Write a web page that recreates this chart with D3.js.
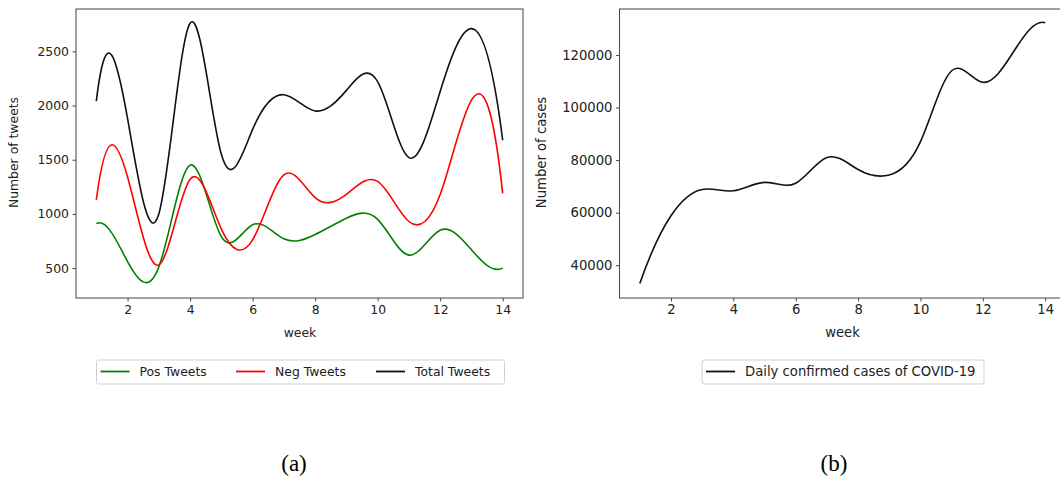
<!DOCTYPE html>
<html>
<head>
<meta charset="utf-8">
<script src="https://cdn.jsdelivr.net/npm/d3@7"></script>
<style>
  body { margin: 0; background: #fff; }
  svg text { font-family: "DejaVu Sans", sans-serif; }
</style>
</head>
<body>
<div class="chart"></div>
<script>
// weekly values
var weeks = [1, 2, 3, 4, 5, 6, 7, 8, 9, 10, 11, 12, 13, 14];
var posTweets = [910, 560, 510, 1450, 790, 900, 770, 810, 960, 950, 620, 850, 670, 500];
var negTweets = [1130, 1340, 530, 1320, 860, 760, 1360, 1150, 1180, 1300, 930, 1180, 2050, 1190];
var totalTweets = [2040, 1880, 1000, 2760, 1550, 1780, 2100, 1950, 2140, 2220, 1520, 2130, 2710, 1680];
var dailyCases = [33000, 58800, 68800, 68300, 71500, 71200, 81000, 76400, 74300, 87000, 114000, 109600, 121500, 132300];

var xTicks = [2, 4, 6, 8, 10, 12, 14];
var tweetTicks = [500, 1000, 1500, 2000, 2500];
var caseTicks = [40000, 60000, 80000, 100000, 120000];

// cubic spline with not-a-knot ends (like scipy's make_interp_spline)
function NotAKnot(context) { this._context = context; }
NotAKnot.prototype = {
    areaStart: function () { this._line = 0; },
    areaEnd: function () { this._line = NaN; },
    lineStart: function () { this._x = []; this._y = []; },
    point: function (x, y) { this._x.push(+x); this._y.push(+y); },
    lineEnd: function () {
        var xs = this._x, ys = this._y, n = xs.length, c = this._context;
        if (!n) return;
        c.moveTo(xs[0], ys[0]);
        if (n < 4) { for (var k = 1; k < n; k++) c.lineTo(xs[k], ys[k]); return; }
        var h = [], i, j;
        for (i = 0; i < n - 1; i++) h.push(xs[i + 1] - xs[i]);
        // build system for second derivatives
        var A = [], b = [];
        for (i = 0; i < n; i++) { A.push(new Array(n).fill(0)); b.push(0); }
        A[0][0] = h[1]; A[0][1] = -(h[0] + h[1]); A[0][2] = h[0];
        for (i = 1; i < n - 1; i++) {
            A[i][i - 1] = h[i - 1];
            A[i][i] = 2 * (h[i - 1] + h[i]);
            A[i][i + 1] = h[i];
            b[i] = 6 * ((ys[i + 1] - ys[i]) / h[i] - (ys[i] - ys[i - 1]) / h[i - 1]);
        }
        A[n - 1][n - 3] = h[n - 2]; A[n - 1][n - 2] = -(h[n - 3] + h[n - 2]); A[n - 1][n - 1] = h[n - 3];
        // gaussian elimination
        for (i = 0; i < n; i++) {
            var p = i;
            for (j = i + 1; j < n; j++) if (Math.abs(A[j][i]) > Math.abs(A[p][i])) p = j;
            var t = A[i]; A[i] = A[p]; A[p] = t; t = b[i]; b[i] = b[p]; b[p] = t;
            for (j = i + 1; j < n; j++) {
                var f = A[j][i] / A[i][i];
                if (!f) continue;
                for (var k2 = i; k2 < n; k2++) A[j][k2] -= f * A[i][k2];
                b[j] -= f * b[i];
            }
        }
        var M = new Array(n).fill(0);
        for (i = n - 1; i >= 0; i--) {
            var s = b[i];
            for (j = i + 1; j < n; j++) s -= A[i][j] * M[j];
            M[i] = s / A[i][i];
        }
        for (i = 0; i < n - 1; i++) {
            var hh = h[i], sl = (ys[i + 1] - ys[i]) / hh;
            var d0 = sl - hh * (2 * M[i] + M[i + 1]) / 6;
            var d1 = sl + hh * (M[i] + 2 * M[i + 1]) / 6;
            c.bezierCurveTo(xs[i] + hh / 3, ys[i] + d0 * hh / 3,
                            xs[i + 1] - hh / 3, ys[i + 1] - d1 * hh / 3,
                            xs[i + 1], ys[i + 1]);
        }
    }
};
function curveNotAKnot(context) { return new NotAKnot(context); }

var svg = d3.select(".chart")
    .append("svg")
    .attr("width", 1060)
    .attr("height", 480);

function drawPanel(opt) {
    var g = svg.append("g")
        .attr("transform", "translate(" + opt.left + "," + opt.top + ")");

    var width = opt.width, height = opt.height, fs = opt.fontSize + "px";

    var x = d3.scaleLinear()
        .domain([0.35, 14.65])
        .range([0, width]);

    var y = d3.scaleLinear()
        .domain(opt.yDomain)
        .range([height, 0]);

    // x axis
    var xa = g.append("g")
        .attr("transform", "translate(0," + height + ")")
        .call(d3.axisBottom(x).tickValues(xTicks).tickSize(3.5).tickPadding(3.5).tickFormat(d3.format("d")));
    xa.select(".domain").remove();
    xa.selectAll("line").attr("stroke", "#444");
    xa.selectAll("text").attr("fill", "#222").style("font-size", fs);

    // y axis
    var ya = g.append("g")
        .call(d3.axisLeft(y).tickValues(opt.yTicks).tickSize(3.5).tickPadding(3.5).tickFormat(d3.format("d")));
    ya.select(".domain").remove();
    ya.selectAll("line").attr("stroke", "#444");
    ya.selectAll("text").attr("fill", "#222").style("font-size", fs);

    // frame
    g.append("rect")
        .attr("x", 0).attr("y", 0)
        .attr("width", width).attr("height", height)
        .attr("fill", "none")
        .attr("stroke", "#444")
        .attr("stroke-width", 1);

    var line = d3.line()
        .x(function (d) { return x(d[0]); })
        .y(function (d) { return y(d[1]); })
        .curve(curveNotAKnot);

    opt.series.forEach(function (s) {
        g.append("path")
            .datum(weeks.map(function (w, i) { return [w, s.values[i]]; }))
            .attr("fill", "none")
            .attr("stroke", s.color)
            .attr("stroke-width", 1.6)
            .attr("d", line);
    });

    g.append("text")
        .attr("text-anchor", "middle")
        .attr("x", opt.xLabelX)
        .attr("y", height + 39)
        .attr("fill", "#222")
        .style("font-size", fs)
        .text("week");

    g.append("text")
        .attr("text-anchor", "middle")
        .attr("transform", "rotate(-90)")
        .attr("x", -height / 2 + 1)
        .attr("y", opt.yLabelY)
        .attr("fill", "#222")
        .style("font-size", fs)
        .text(opt.yLabel);

    // legend below the axes
    var lg = svg.append("g")
        .attr("transform", "translate(" + opt.legend.x + ",360)");
    lg.append("rect")
        .attr("x", 0).attr("y", 0)
        .attr("width", opt.legend.w).attr("height", 24)
        .attr("rx", 2)
        .attr("fill", "#fff")
        .attr("stroke", "#d0d0d0");
    opt.series.forEach(function (s, i) {
        var ox = opt.legend.offsets[i];
        lg.append("line")
            .attr("x1", ox).attr("x2", ox + 29)
            .attr("y1", 11.5).attr("y2", 11.5)
            .attr("stroke", s.color)
            .attr("stroke-width", 1.8);
        lg.append("text")
            .attr("x", ox + opt.legend.gap)
            .attr("y", 16)
            .attr("fill", "#222")
            .style("font-size", fs)
            .text(s.name);
    });

    svg.append("text")
        .attr("x", opt.capX)
        .attr("y", 471)
        .attr("text-anchor", "middle")
        .attr("fill", "#000")
        .style("font-family", "'Liberation Serif', serif")
        .style("font-size", "23px")
        .text(opt.caption);
}

drawPanel({
    left: 76, top: 9, width: 447, height: 289,
    fontSize: 12.4,
    yDomain: [224, 2891],
    yTicks: tweetTicks,
    yLabel: "Number of tweets",
    yLabelY: -58,
    xLabelX: 224,
    series: [
        { name: "Pos Tweets", values: posTweets, color: "green" },
        { name: "Neg Tweets", values: negTweets, color: "red" },
        { name: "Total Tweets", values: totalTweets, color: "#111" }
    ],
    legend: { x: 96.5, w: 408, gap: 39, offsets: [4, 139.5, 279.5] },
    caption: "(a)", capX: 294
});

drawPanel({
    left: 619.5, top: 9, width: 446, height: 289,
    fontSize: 13.2,
    yDomain: [27500, 137500],
    yTicks: caseTicks,
    yLabel: "Number of cases",
    yLabelY: -74,
    xLabelX: 223,
    series: [
        { name: "Daily confirmed cases of COVID-19", values: dailyCases, color: "#111" }
    ],
    legend: { x: 702, w: 282, gap: 39, offsets: [4] },
    caption: "(b)", capX: 834
});
</script>
</body>
</html>
